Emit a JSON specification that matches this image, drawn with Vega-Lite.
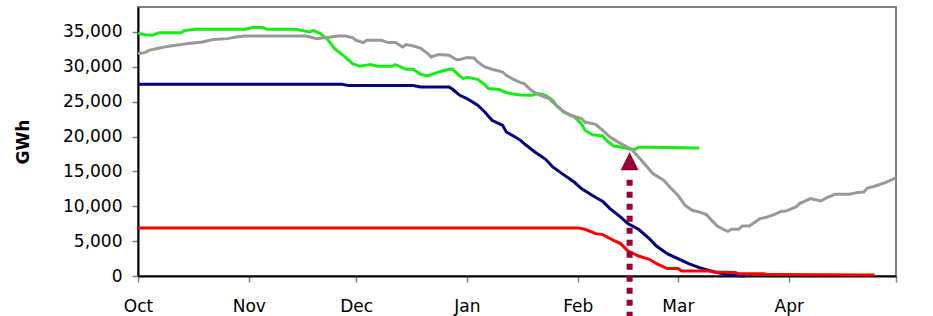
{
  "$schema": "https://vega.github.io/schema/vega-lite/v6.json",
  "width": 758,
  "height": 269,
  "autosize": {"type": "none"},
  "padding": {"left": 138, "top": 7, "right": 37, "bottom": 40},
  "background": "white",
  "config": {
    "view": {"stroke": "#808080", "strokeWidth": 2},
    "axis": {
      "grid": false,
      "labelFont": "DejaVu Sans",
      "labelFontSize": 17,
      "labelColor": "#000000",
      "labelOverlap": false,
      "labelFlush": false,
      "tickSize": 6,
      "tickColor": "#808080",
      "tickWidth": 1.5,
      "domainColor": "#000000",
      "domainWidth": 2,
      "titleFont": "DejaVu Sans",
      "titleFontSize": 17,
      "titleFontWeight": "bold",
      "titleColor": "#000000"
    }
  },
  "layer": [
    {
      "data": {
        "format": {"parse": {"d": "date:'%Y-%m-%d'"}},
        "values": [
          {"s":"S1","d":"2006-10-01","v":34800},{"s":"S1","d":"2006-10-03","v":34600},{"s":"S1","d":"2006-10-05","v":34550},{"s":"S1","d":"2006-10-07","v":34900},{"s":"S1","d":"2006-10-13","v":34900},{"s":"S1","d":"2006-10-14","v":35200},{"s":"S1","d":"2006-10-17","v":35390},{"s":"S1","d":"2006-10-31","v":35390},{"s":"S1","d":"2006-11-02","v":35630},{"s":"S1","d":"2006-11-05","v":35630},{"s":"S1","d":"2006-11-06","v":35390},{"s":"S1","d":"2006-11-14","v":35390},{"s":"S1","d":"2006-11-16","v":35200},{"s":"S1","d":"2006-11-18","v":35000},{"s":"S1","d":"2006-11-19","v":35240},{"s":"S1","d":"2006-11-21","v":34770},{"s":"S1","d":"2006-11-23","v":33950},{"s":"S1","d":"2006-11-25","v":32600},{"s":"S1","d":"2006-11-28","v":31410},{"s":"S1","d":"2006-11-30","v":30460},{"s":"S1","d":"2006-12-02","v":30080},{"s":"S1","d":"2006-12-04","v":30250},{"s":"S1","d":"2006-12-05","v":30320},{"s":"S1","d":"2006-12-07","v":30080},{"s":"S1","d":"2006-12-11","v":30080},{"s":"S1","d":"2006-12-12","v":30320},{"s":"S1","d":"2006-12-15","v":29650},{"s":"S1","d":"2006-12-17","v":29650},{"s":"S1","d":"2006-12-19","v":28930},{"s":"S1","d":"2006-12-21","v":28690},{"s":"S1","d":"2006-12-23","v":29070},{"s":"S1","d":"2006-12-25","v":29400},{"s":"S1","d":"2006-12-27","v":29650},{"s":"S1","d":"2006-12-28","v":29650},{"s":"S1","d":"2006-12-30","v":28690},{"s":"S1","d":"2006-12-31","v":28310},{"s":"S1","d":"2007-01-01","v":28500},{"s":"S1","d":"2007-01-04","v":28210},{"s":"S1","d":"2007-01-06","v":27450},{"s":"S1","d":"2007-01-07","v":26880},{"s":"S1","d":"2007-01-10","v":26740},{"s":"S1","d":"2007-01-12","v":26310},{"s":"S1","d":"2007-01-14","v":26100},{"s":"S1","d":"2007-01-16","v":25950},{"s":"S1","d":"2007-01-19","v":25920},{"s":"S1","d":"2007-01-21","v":26160},{"s":"S1","d":"2007-01-23","v":25920},{"s":"S1","d":"2007-01-25","v":25200},{"s":"S1","d":"2007-01-26","v":24490},{"s":"S1","d":"2007-01-28","v":23530},{"s":"S1","d":"2007-01-31","v":22810},{"s":"S1","d":"2007-02-02","v":21860},{"s":"S1","d":"2007-02-03","v":20900},{"s":"S1","d":"2007-02-05","v":20280},{"s":"S1","d":"2007-02-08","v":20080},{"s":"S1","d":"2007-02-09","v":19460},{"s":"S1","d":"2007-02-11","v":18650},{"s":"S1","d":"2007-02-13","v":18500},{"s":"S1","d":"2007-02-16","v":18170},{"s":"S1","d":"2007-02-17","v":18170},{"s":"S1","d":"2007-02-18","v":18460},{"s":"S1","d":"2007-02-21","v":18460},{"s":"S1","d":"2007-03-07","v":18360},
          {"s":"S2","d":"2006-10-01","v":31900},{"s":"S2","d":"2006-10-03","v":32040},{"s":"S2","d":"2006-10-04","v":32370},{"s":"S2","d":"2006-10-07","v":32700},{"s":"S2","d":"2006-10-09","v":32900},{"s":"S2","d":"2006-10-10","v":32990},{"s":"S2","d":"2006-10-13","v":33190},{"s":"S2","d":"2006-10-15","v":33340},{"s":"S2","d":"2006-10-19","v":33560},{"s":"S2","d":"2006-10-22","v":33910},{"s":"S2","d":"2006-10-26","v":34050},{"s":"S2","d":"2006-10-28","v":34240},{"s":"S2","d":"2006-10-31","v":34430},{"s":"S2","d":"2006-11-17","v":34430},{"s":"S2","d":"2006-11-20","v":34050},{"s":"S2","d":"2006-11-22","v":34190},{"s":"S2","d":"2006-11-24","v":34290},{"s":"S2","d":"2006-11-26","v":34430},{"s":"S2","d":"2006-11-28","v":34430},{"s":"S2","d":"2006-11-30","v":34190},{"s":"S2","d":"2006-12-01","v":33810},{"s":"S2","d":"2006-12-03","v":33480},{"s":"S2","d":"2006-12-04","v":33810},{"s":"S2","d":"2006-12-08","v":33810},{"s":"S2","d":"2006-12-10","v":33480},{"s":"S2","d":"2006-12-12","v":33480},{"s":"S2","d":"2006-12-14","v":32850},{"s":"S2","d":"2006-12-15","v":33190},{"s":"S2","d":"2006-12-17","v":32990},{"s":"S2","d":"2006-12-19","v":32700},{"s":"S2","d":"2006-12-21","v":31900},{"s":"S2","d":"2006-12-22","v":31410},{"s":"S2","d":"2006-12-24","v":31760},{"s":"S2","d":"2006-12-27","v":31660},{"s":"S2","d":"2006-12-29","v":31040},{"s":"S2","d":"2006-12-30","v":31040},{"s":"S2","d":"2007-01-01","v":31330},{"s":"S2","d":"2007-01-03","v":31270},{"s":"S2","d":"2007-01-04","v":30700},{"s":"S2","d":"2007-01-06","v":29980},{"s":"S2","d":"2007-01-08","v":29650},{"s":"S2","d":"2007-01-11","v":29260},{"s":"S2","d":"2007-01-12","v":28790},{"s":"S2","d":"2007-01-14","v":28200},{"s":"S2","d":"2007-01-16","v":27740},{"s":"S2","d":"2007-01-17","v":27590},{"s":"S2","d":"2007-01-19","v":26640},{"s":"S2","d":"2007-01-21","v":26020},{"s":"S2","d":"2007-01-24","v":25450},{"s":"S2","d":"2007-01-26","v":24490},{"s":"S2","d":"2007-01-28","v":23620},{"s":"S2","d":"2007-01-30","v":23050},{"s":"S2","d":"2007-02-02","v":22580},{"s":"S2","d":"2007-02-03","v":22090},{"s":"S2","d":"2007-02-06","v":21760},{"s":"S2","d":"2007-02-08","v":20900},{"s":"S2","d":"2007-02-10","v":19940},{"s":"S2","d":"2007-02-13","v":18990},{"s":"S2","d":"2007-02-16","v":18170},{"s":"S2","d":"2007-02-18","v":17070},{"s":"S2","d":"2007-02-20","v":15880},{"s":"S2","d":"2007-02-22","v":14690},{"s":"S2","d":"2007-02-25","v":13730},{"s":"S2","d":"2007-02-27","v":12620},{"s":"S2","d":"2007-03-01","v":11580},{"s":"S2","d":"2007-03-03","v":10140},{"s":"S2","d":"2007-03-05","v":9420},{"s":"S2","d":"2007-03-07","v":9180},{"s":"S2","d":"2007-03-09","v":8800},{"s":"S2","d":"2007-03-10","v":8230},{"s":"S2","d":"2007-03-12","v":7170},{"s":"S2","d":"2007-03-14","v":6600},{"s":"S2","d":"2007-03-15","v":6410},{"s":"S2","d":"2007-03-16","v":6700},{"s":"S2","d":"2007-03-18","v":6700},{"s":"S2","d":"2007-03-19","v":7170},{"s":"S2","d":"2007-03-21","v":7170},{"s":"S2","d":"2007-03-22","v":7520},{"s":"S2","d":"2007-03-24","v":8230},{"s":"S2","d":"2007-03-26","v":8460},{"s":"S2","d":"2007-03-28","v":8850},{"s":"S2","d":"2007-03-30","v":9280},{"s":"S2","d":"2007-03-31","v":9280},{"s":"S2","d":"2007-04-03","v":9900},{"s":"S2","d":"2007-04-04","v":10390},{"s":"S2","d":"2007-04-06","v":10860},{"s":"S2","d":"2007-04-07","v":11100},{"s":"S2","d":"2007-04-10","v":10760},{"s":"S2","d":"2007-04-12","v":11330},{"s":"S2","d":"2007-04-14","v":11720},{"s":"S2","d":"2007-04-18","v":11720},{"s":"S2","d":"2007-04-20","v":11960},{"s":"S2","d":"2007-04-22","v":12050},{"s":"S2","d":"2007-04-23","v":12620},{"s":"S2","d":"2007-04-25","v":12870},{"s":"S2","d":"2007-04-28","v":13400},{"s":"S2","d":"2007-05-01","v":14060},
          {"s":"S3","d":"2006-10-01","v":27500},{"s":"S3","d":"2006-11-27","v":27500},{"s":"S3","d":"2006-11-29","v":27310},{"s":"S3","d":"2006-12-17","v":27310},{"s":"S3","d":"2006-12-19","v":27120},{"s":"S3","d":"2006-12-27","v":27120},{"s":"S3","d":"2006-12-28","v":26780},{"s":"S3","d":"2006-12-30","v":25920},{"s":"S3","d":"2007-01-01","v":25450},{"s":"S3","d":"2007-01-04","v":24490},{"s":"S3","d":"2007-01-06","v":23530},{"s":"S3","d":"2007-01-08","v":22330},{"s":"S3","d":"2007-01-11","v":21620},{"s":"S3","d":"2007-01-12","v":20660},{"s":"S3","d":"2007-01-14","v":20080},{"s":"S3","d":"2007-01-16","v":19460},{"s":"S3","d":"2007-01-17","v":18990},{"s":"S3","d":"2007-01-20","v":17790},{"s":"S3","d":"2007-01-23","v":16740},{"s":"S3","d":"2007-01-25","v":15640},{"s":"S3","d":"2007-01-28","v":14540},{"s":"S3","d":"2007-01-31","v":13480},{"s":"S3","d":"2007-02-02","v":12540},{"s":"S3","d":"2007-02-05","v":11580},{"s":"S3","d":"2007-02-08","v":10710},{"s":"S3","d":"2007-02-10","v":9670},{"s":"S3","d":"2007-02-13","v":8460},{"s":"S3","d":"2007-02-15","v":7520},{"s":"S3","d":"2007-02-18","v":6700},{"s":"S3","d":"2007-02-21","v":5360},{"s":"S3","d":"2007-02-23","v":4300},{"s":"S3","d":"2007-02-26","v":3210},{"s":"S3","d":"2007-03-01","v":2500},{"s":"S3","d":"2007-03-04","v":1780},{"s":"S3","d":"2007-03-07","v":1200},{"s":"S3","d":"2007-03-10","v":750},{"s":"S3","d":"2007-03-13","v":380},{"s":"S3","d":"2007-03-16","v":100},{"s":"S3","d":"2007-03-20","v":0},
          {"s":"S4","d":"2006-10-01","v":6900},{"s":"S4","d":"2007-02-01","v":6900},{"s":"S4","d":"2007-02-03","v":6700},{"s":"S4","d":"2007-02-06","v":6080},{"s":"S4","d":"2007-02-08","v":5940},{"s":"S4","d":"2007-02-11","v":5120},{"s":"S4","d":"2007-02-13","v":4650},{"s":"S4","d":"2007-02-15","v":3600},{"s":"S4","d":"2007-02-18","v":2870},{"s":"S4","d":"2007-02-21","v":2400},{"s":"S4","d":"2007-02-23","v":1780},{"s":"S4","d":"2007-02-26","v":1060},{"s":"S4","d":"2007-03-01","v":1060},{"s":"S4","d":"2007-03-02","v":720},{"s":"S4","d":"2007-03-10","v":720},{"s":"S4","d":"2007-03-11","v":580},{"s":"S4","d":"2007-03-17","v":490},{"s":"S4","d":"2007-03-18","v":340},{"s":"S4","d":"2007-03-25","v":340},{"s":"S4","d":"2007-03-26","v":200},{"s":"S4","d":"2007-04-25","v":150}
        ]
      },
      "mark": {"type": "line", "strokeWidth": 3, "interpolate": "linear"},
      "encoding": {
        "x": {
          "field": "d",
          "type": "temporal",
          "scale": {"domain": [{"year": 2006, "month": 10, "date": 1}, {"year": 2007, "month": 5, "date": 1}]},
          "axis": {
            "title": null,
            "values": [
              {"year": 2006, "month": 10, "date": 1},
              {"year": 2006, "month": 11, "date": 1},
              {"year": 2006, "month": 12, "date": 1},
              {"year": 2007, "month": 1, "date": 1},
              {"year": 2007, "month": 2, "date": 1},
              {"year": 2007, "month": 3, "date": 1},
              {"year": 2007, "month": 4, "date": 1},
              {"year": 2007, "month": 5, "date": 1}
            ],
            "labelExpr": "month(datum.value) == 4 ? '' : timeFormat(datum.value, '%b')",
            "labelPadding": 16
          }
        },
        "y": {
          "field": "v",
          "type": "quantitative",
          "scale": {"domain": [0, 38586], "nice": false},
          "axis": {
            "title": "GWh",
            "titlePadding": 30,
            "values": [0, 5000, 10000, 15000, 20000, 25000, 30000, 35000],
            "labelExpr": "format(datum.value, ',.0f')",
            "labelPadding": 10
          }
        },
        "color": {
          "field": "s",
          "type": "nominal",
          "scale": {"domain": ["S1", "S2", "S3", "S4"], "range": ["#11f011", "#999999", "#000080", "#ff0000"]},
          "legend": null
        }
      }
    },
    {
      "data": {"values": [{}]},
      "mark": {"type": "rule", "color": "#990033", "strokeWidth": 6, "strokeDash": [6, 6], "strokeCap": "butt", "clip": false},
      "encoding": {
        "x": {
          "datum": {"year": 2007, "month": 2, "date": 15, "hours": 12},
          "type": "temporal",
          "axis": {
            "title": null,
            "values": [
              {"year": 2006, "month": 10, "date": 1},
              {"year": 2006, "month": 11, "date": 1},
              {"year": 2006, "month": 12, "date": 1},
              {"year": 2007, "month": 1, "date": 1},
              {"year": 2007, "month": 2, "date": 1},
              {"year": 2007, "month": 3, "date": 1},
              {"year": 2007, "month": 4, "date": 1},
              {"year": 2007, "month": 5, "date": 1}
            ],
            "labelExpr": "month(datum.value) == 4 ? '' : timeFormat(datum.value, '%b')",
            "labelPadding": 16
          }
        },
        "y": {
          "datum": 13800,
          "type": "quantitative",
          "axis": {
            "title": "GWh",
            "titlePadding": 30,
            "values": [0, 5000, 10000, 15000, 20000, 25000, 30000, 35000],
            "labelExpr": "format(datum.value, ',.0f')",
            "labelPadding": 10
          }
        },
        "y2": {"datum": -5800}
      }
    },
    {
      "data": {"values": [{}]},
      "mark": {"type": "point", "shape": "M0,-1L1,1L-1,1Z", "size": 324, "filled": true, "opacity": 1, "color": "#990033", "strokeWidth": 0},
      "encoding": {
        "x": {
          "datum": {"year": 2007, "month": 2, "date": 15, "hours": 12},
          "type": "temporal",
          "axis": {
            "title": null,
            "values": [
              {"year": 2006, "month": 10, "date": 1},
              {"year": 2006, "month": 11, "date": 1},
              {"year": 2006, "month": 12, "date": 1},
              {"year": 2007, "month": 1, "date": 1},
              {"year": 2007, "month": 2, "date": 1},
              {"year": 2007, "month": 3, "date": 1},
              {"year": 2007, "month": 4, "date": 1},
              {"year": 2007, "month": 5, "date": 1}
            ],
            "labelExpr": "month(datum.value) == 4 ? '' : timeFormat(datum.value, '%b')",
            "labelPadding": 16
          }
        },
        "y": {
          "datum": 16450,
          "type": "quantitative",
          "axis": {
            "title": "GWh",
            "titlePadding": 30,
            "values": [0, 5000, 10000, 15000, 20000, 25000, 30000, 35000],
            "labelExpr": "format(datum.value, ',.0f')",
            "labelPadding": 10
          }
        }
      }
    }
  ]
}
